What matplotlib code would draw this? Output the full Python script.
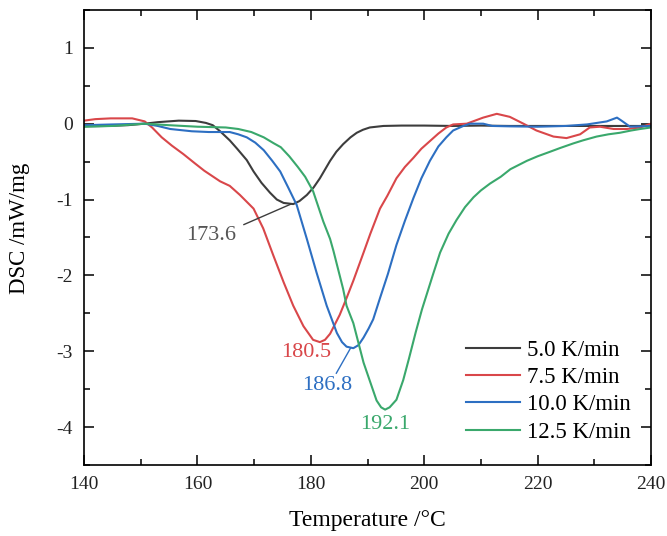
import matplotlib
matplotlib.use("Agg")
import matplotlib.pyplot as plt
from matplotlib.ticker import MultipleLocator

plt.rcParams["font.family"] = ["Liberation Serif", "DejaVu Serif"]
plt.rcParams["axes.unicode_minus"] = False

# 5.0 K/min
t_50 = [140, 144, 147.7, 150.7, 153, 156.7, 159.7, 161.5, 162.7, 164, 165.7, 167, 168.7,
        169.9, 171.3, 172.8, 174, 175.2, 176.9, 178, 179.3, 180.5, 181.6, 183.4, 184.5,
        185.7, 187, 188.1, 189.2, 190.4, 192.8, 196, 200, 205, 210, 215, 220, 225, 230, 235, 240]
dsc_50 = [-0.035, -0.03, -0.02, 0, 0.02, 0.04, 0.035, 0.01, -0.02, -0.1, -0.22, -0.33, -0.48,
          -0.63, -0.78, -0.91, -1.0, -1.045, -1.06, -1.02, -0.94, -0.84, -0.72, -0.49, -0.37,
          -0.27, -0.18, -0.12, -0.08, -0.05, -0.03, -0.025, -0.025, -0.03, -0.025, -0.03, -0.03,
          -0.03, -0.03, -0.03, -0.03]

# 7.5 K/min
t_75 = [140, 142, 144.7, 148.5, 150.7, 152, 153.7, 155.5, 157.5, 159.5, 161.2, 164, 165.7,
        167.5, 169.9, 171.6, 173.4, 175.2, 176.9, 178.7, 180.4, 181.6, 182.5, 183.4, 185.1,
        186.3, 187.5, 189.3, 190.5, 192.2, 193.5, 195.1, 196.6, 198.1, 199.5, 201, 202.5,
        203.9, 205.1, 207.5, 210.4, 212.8, 215.1, 217.5, 219.8, 222.8, 225.1, 227.5, 229.2,
        231, 233.4, 235.7, 238.1, 240]
dsc_75 = [0.04, 0.06, 0.07, 0.07, 0.03, -0.05, -0.18, -0.29, -0.40, -0.52, -0.62, -0.76, -0.82,
          -0.94, -1.12, -1.38, -1.74, -2.09, -2.40, -2.67, -2.85, -2.88, -2.85, -2.77, -2.52,
          -2.30, -2.07, -1.70, -1.45, -1.12, -0.95, -0.72, -0.57, -0.45, -0.33, -0.23, -0.13,
          -0.05, -0.01, 0, 0.08, 0.13, 0.09, 0, -0.09, -0.17, -0.19, -0.14, -0.05,
          -0.04, -0.07, -0.07, -0.05, 0]

# 10.0 K/min
t_100 = [140, 145, 150.7, 153, 155.2, 159, 162, 165.7, 167.2, 168.7, 170.2, 171.7, 173.2, 174.6,
         176, 177.5, 179.3, 181, 182.8, 184.6, 185.5, 186.3, 187.5, 188.4, 189.3, 190.2, 191,
         192.2, 193.6, 195.1, 196.6, 198.1, 199.5, 201, 202.5, 203.9, 205.1, 206.9, 208.1,
         210.4, 212, 215, 220, 225, 228.7, 232.2, 234, 234.8, 236.3, 240]
dsc_100 = [-0.02, -0.01, 0, -0.03, -0.07, -0.10, -0.11, -0.11, -0.14, -0.18, -0.25, -0.35, -0.49,
           -0.63, -0.84, -1.07, -1.52, -1.96, -2.40, -2.76, -2.88, -2.94, -2.96, -2.92, -2.82,
           -2.70, -2.58, -2.30, -1.98, -1.60, -1.28, -0.98, -0.72, -0.49, -0.30, -0.18, -0.09,
           -0.03, 0, 0, -0.03, -0.035, -0.04, -0.03, -0.01, 0.03, 0.08, 0.04, -0.04, -0.03]

# 12.5 K/min
t_125 = [140, 145, 150.7, 155, 160, 165, 167.2, 169.5, 171.7, 173.5, 174.7, 176.2, 177.7, 179,
         180.4, 182.2, 183.4, 184, 185.7, 186.3, 187.5, 189.3, 191, 191.6, 192.4, 193.1, 193.9,
         195.1, 196.3, 197.3, 198.5, 199.6, 201.5, 202.8, 204.3, 205.7, 207.2, 208.7, 210,
         211.6, 213.5, 215.2, 218.1, 220, 222.2, 224, 226.3, 228, 230.4, 232.5, 234.5, 236.5,
         238.1, 240]
dsc_125 = [-0.04, -0.03, 0, -0.02, -0.04, -0.05, -0.07, -0.11, -0.18, -0.26, -0.31, -0.43, -0.57,
           -0.70, -0.89, -1.29, -1.52, -1.68, -2.18, -2.40, -2.63, -3.15, -3.52, -3.65, -3.74,
           -3.77, -3.74, -3.64, -3.38, -3.10, -2.75, -2.45, -2.0, -1.70, -1.45, -1.27, -1.10,
           -0.97, -0.88, -0.79, -0.70, -0.60, -0.49, -0.43, -0.37, -0.32, -0.26, -0.22, -0.17,
           -0.14, -0.12, -0.09, -0.07, -0.05]

labels = ["5.0 K/min", "7.5 K/min", "10.0 K/min", "12.5 K/min"]
colors = ["#3d3d3d", "#d9474a", "#2d6fc2", "#3aa86c"]
peak_txt = ["173.6", "180.5", "186.8", "192.1"]

fig = plt.figure(figsize=(6.67, 5.36), dpi=100)
ax = fig.add_axes([0.126, 0.1325, 0.85, 0.849])

curves = [(t_50, dsc_50), (t_75, dsc_75), (t_100, dsc_100), (t_125, dsc_125)]
for (t, d), c, lab in zip(curves, colors, labels):
    ax.plot(t, d, color=c, lw=1.5, label=lab)

# peak labels
ax.text(162.5, -1.47, peak_txt[0], color="#555555", fontsize=16, ha="center", va="center")
ax.plot([168.2, 176.5], [-1.33, -1.06], color="#3d3d3d", lw=1.0)
ax.text(179.2, -3.02, peak_txt[1], color=colors[1], fontsize=16, ha="center", va="center")
ax.text(182.9, -3.45, peak_txt[2], color=colors[2], fontsize=16, ha="center", va="center")
ax.plot([184.5, 187.0], [-3.29, -2.96], color=colors[2], lw=1.0)
ax.text(193.1, -3.97, peak_txt[3], color=colors[3], fontsize=16, ha="center", va="center")

ax.set_xlim(140, 240)
ax.set_ylim(-4.5, 1.5)
ax.xaxis.set_major_locator(MultipleLocator(20))
ax.xaxis.set_minor_locator(MultipleLocator(10))
ax.yaxis.set_major_locator(MultipleLocator(1))
ax.yaxis.set_minor_locator(MultipleLocator(0.5))
ax.tick_params(which="both", direction="in", top=True, right=True, width=1.1,
               labelsize=14, labelcolor="#222222", pad=8)
ax.tick_params(which="major", length=7)
ax.tick_params(which="minor", length=4)
for s in ax.spines.values():
    s.set_linewidth(1.2)

ax.set_xlabel("Temperature /°C", fontsize=17, labelpad=12)
ax.set_ylabel("DSC /mW/mg", fontsize=16.5)
ax.yaxis.set_label_coords(-0.095, 0.52)

ax.legend(loc="upper left", bbox_to_anchor=(0.674, 0.275), frameon=False, fontsize=16.5,
          handlelength=2.35, handletextpad=0.3, labelspacing=0.27, borderpad=0,
          borderaxespad=0)

fig.savefig("out.png", dpi=100)
